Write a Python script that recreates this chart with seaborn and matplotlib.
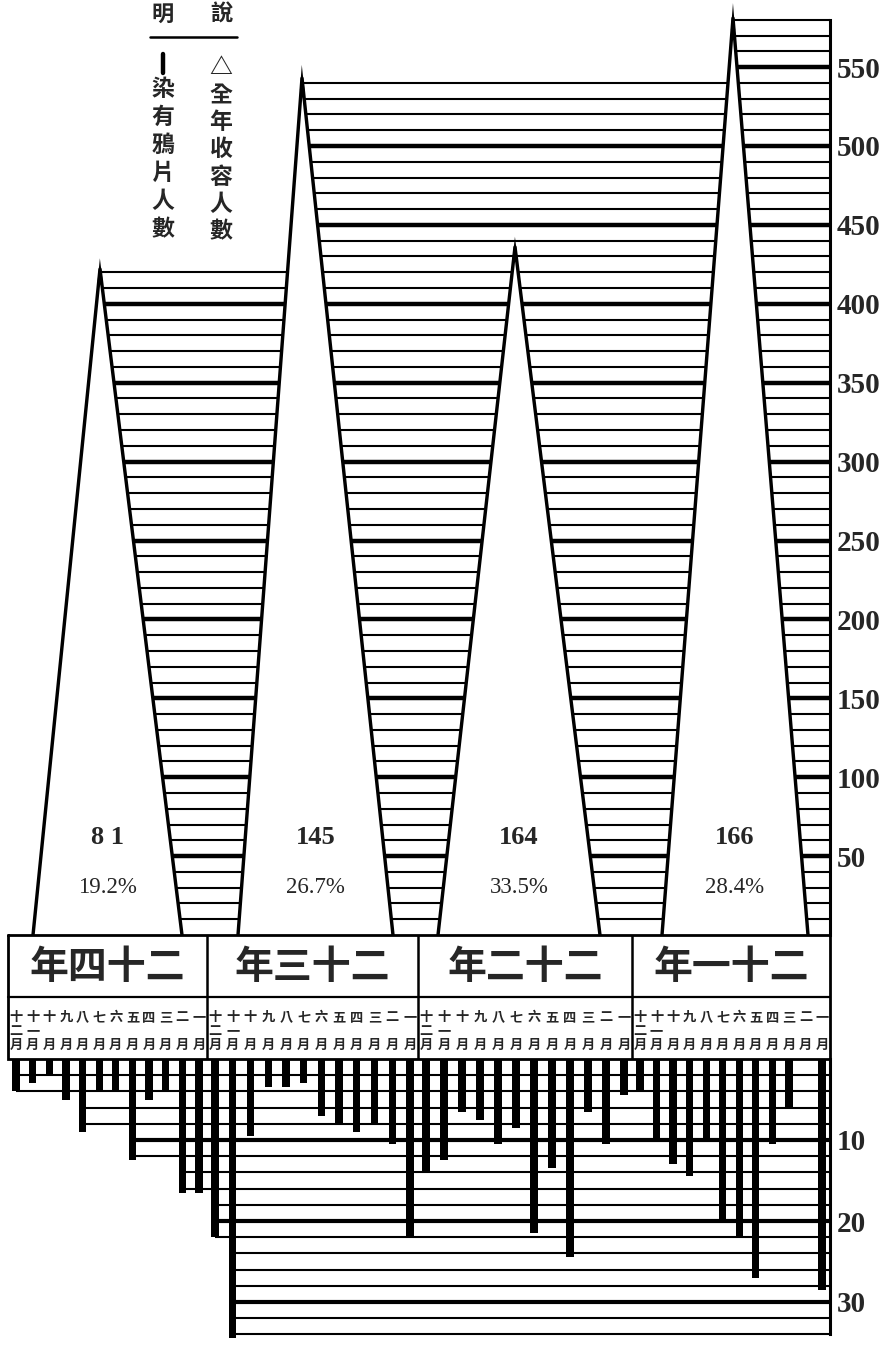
import numpy as np
import pandas as pd
import matplotlib
matplotlib.use("Agg")
import matplotlib.pyplot as plt
import seaborn as sns

# ---------------- data ----------------
# columns read right-to-left in the original: 民國二十四, 二十三, 二十二, 二十一年
year_titles = ["年四十二", "年三十二", "年二十二", "年一十二"]
month_labels = ["十二月", "十一月", "十月", "九月", "八月", "七月",
                "六月", "五月", "四月", "三月", "二月", "一月"]
# 全年收容人數 (apex of each triangle)
total_admitted = [422, 543, 436, 581]
# 染有鴉片人數 per year, printed inside triangles
opium_total_labels = ["8 1", "145", "164", "166"]
opium_pct = [19.2, 26.7, 33.5, 28.4]
# monthly opium-addicted counts (十二月 ... 一月)
opium_y24 = [4, 3, 2, 5, 9, 4, 4, 12.5, 5, 4, 16.5, 16.5]
opium_y23 = [22, 34.5, 9.5, 3.5, 3.5, 3, 7, 8, 9, 8, 10.5, 22]
opium_y22 = [14, 12.5, 6.5, 7.5, 10.5, 8.5, 21.5, 13.5, 24.5, 6.5, 10.5, 4.5]
opium_y21 = [4, 10, 13, 14.5, 10, 20, 22, 27, 10.5, 6, 0, 28.5]
top_ticks = [50, 100, 150, 200, 250, 300, 350, 400, 450, 500, 550]
bottom_ticks = [10, 20, 30]
legend_right = ["△", "全", "年", "收", "容", "人", "數"]
legend_left = ["染", "有", "鴉", "片", "人", "數"]
legend_head = ["說", "明"]

# ---------------- layout (pixels) ----------------
W, H = 887, 1348
AXIS_X = 830
TOP_ZERO = 935          # pixel row of value 0 for the upper scale
TOP_PPU = 1.578         # pixels per person (upper)
BOT_ZERO = 1059         # pixel row of value 0 for the lower scale
BOT_PPU = 8.1           # pixels per person (lower)
BOT_LAST_LINE = 34
col_edges = [8, 207, 418, 632, 830]
tri_left_x = [33, 238, 438, 662]
tri_apex_x = [100, 302, 515, 733]
tri_right_x = [182, 393, 600, 808]
BOX_MID = 997
SIDE_LW_PX = 3.4
SPIKE_HALF_PX = 1.2

CJK = ["Noto Sans CJK TC", "DejaVu Sans"]
SERIF = ["Liberation Serif", "DejaVu Serif"]

sns.set_theme(style="white")
plt.rcParams["font.family"] = CJK
plt.rcParams["axes.edgecolor"] = "black"

fig = plt.figure(figsize=(W / 100, H / 100), dpi=100)
fig.patch.set_facecolor("white")


def rect(x0, y_top, x1, y_bot):
    return [x0 / W, 1 - y_bot / H, (x1 - x0) / W, (y_bot - y_top) / H]


ax_top = fig.add_axes(rect(0, 0, AXIS_X, TOP_ZERO))
ax_box = fig.add_axes(rect(0, TOP_ZERO, AXIS_X, BOT_ZERO))
ax_bot = fig.add_axes(rect(0, BOT_ZERO, AXIS_X, H))
for ax in (ax_top, ax_box, ax_bot):
    ax.set_facecolor("none")
    ax.set_xlim(0, AXIS_X)
    ax.set_xticks([])
    for s in ax.spines.values():
        s.set_visible(False)

# ---------------- upper part: triangles ----------------
ax_top.set_ylim(0, TOP_ZERO / TOP_PPU)
max_level = int(max(total_admitted) // 10 * 10)
for lev in range(10, max_level + 1, 10):
    first = next(i for i, v in enumerate(total_admitted) if v >= lev)
    ax_top.hlines(lev, tri_apex_x[first], AXIS_X, color="black",
                  lw=3.2 if lev % 50 == 0 else 1.5, zorder=1)

tri_rows = []
for i, v in enumerate(total_admitted):
    xl, xa, xr = tri_left_x[i], tri_apex_x[i], tri_right_x[i]
    tri_rows += [dict(year=i, x=xl, y=0), dict(year=i, x=xa, y=v), dict(year=i, x=xr, y=0)]
    ax_top.fill([xl, xa, xr], [0, v, 0], color="white", lw=0, zorder=3)
    # mitred apex as printed: outer edges of the thick sides meet above the apex
    hpx = v * TOP_PPU
    sl = (xa - xl) / hpx
    sr = (xr - xa) / hpx
    depth_px = 12
    yb = v - depth_px / TOP_PPU
    xl_o = xa - sl * depth_px - SPIKE_HALF_PX / np.cos(np.arctan(sl))
    xr_o = xa + sr * depth_px + SPIKE_HALF_PX / np.cos(np.arctan(sr))
    up_px = (xr_o - xl_o) / (sl + sr)
    tip_x = xl_o + sl * up_px
    tip_y = yb + up_px / TOP_PPU
    ax_top.fill([xl_o, tip_x, xr_o], [yb, tip_y, yb], color="black", lw=0, zorder=4)
tri_df = pd.DataFrame(tri_rows)
sns.lineplot(data=tri_df, x="x", y="y", units="year", estimator=None, sort=False,
             color="black", lw=SIDE_LW_PX * 0.72, ax=ax_top, zorder=4, legend=False)
ax_top.set_xlabel("")
ax_top.set_ylabel("")

for i in range(4):
    cx = (tri_left_x[i] + tri_right_x[i]) / 2
    ax_top.text(cx, 61.5, opium_total_labels[i], ha="center", va="center",
                fontsize=19, fontweight="bold", family=SERIF, zorder=6)
    ax_top.text(cx, 30.4, f"{opium_pct[i]:.1f}%", ha="center", va="center",
                fontsize=16.5, family=SERIF, zorder=6)

ax_top.spines["right"].set_visible(True)
ax_top.spines["right"].set_bounds(0, max_level)
ax_top.spines["right"].set_linewidth(2.2)
ax_top.yaxis.tick_right()
ax_top.set_yticks(top_ticks)
ax_top.tick_params(axis="y", length=0, pad=5, labelsize=21)
for lbl in ax_top.get_yticklabels():
    lbl.set_fontfamily(SERIF)
    lbl.set_fontweight("bold")

# ---------------- label box ----------------
ax_box.set_ylim(BOT_ZERO, TOP_ZERO)
ax_box.set_yticks([])
bx0, bx1 = col_edges[0], col_edges[-1]
ax_box.plot([bx0, bx1, bx1, bx0, bx0], [TOP_ZERO, TOP_ZERO, BOT_ZERO, BOT_ZERO, TOP_ZERO],
            color="black", lw=2.0, clip_on=False, solid_joinstyle="miter")
ax_box.plot([bx0, bx1], [BOX_MID, BOX_MID], color="black", lw=1.6)
for e in col_edges[1:-1]:
    ax_box.plot([e, e], [TOP_ZERO, BOT_ZERO], color="black", lw=1.8)

bar_x = []
for i in range(4):
    e0, e1 = col_edges[i], col_edges[i + 1]
    ax_box.text((e0 + e1) / 2, 967, year_titles[i], ha="center", va="center",
                fontsize=28, fontweight="bold")
    step = (e1 - e0 - 16) / 11
    for j, m in enumerate(month_labels):
        x = e0 + 8 + j * step
        bar_x.append(x)
        top = m[0]
        mid = m[1] if len(m) == 3 else ""
        ax_box.text(x, 1017, top, ha="center", va="center", fontsize=9.5, fontweight="heavy")
        if mid:
            ax_box.text(x, 1031, mid, ha="center", va="center", fontsize=9.5, fontweight="heavy")
        ax_box.text(x, 1045, "月", ha="center", va="center", fontsize=9.5, fontweight="heavy")

# ---------------- lower part: monthly bars ----------------
monthly = opium_y24 + opium_y23 + opium_y22 + opium_y21
bars_df = pd.DataFrame({"x": bar_x, "count": monthly})
for lev in range(2, BOT_LAST_LINE + 1, 2):
    first = next(k for k, v in enumerate(monthly) if v >= lev)
    ax_bot.hlines(lev, bar_x[first], AXIS_X, color="black",
                  lw=3.0 if lev % 10 == 0 else 1.5, zorder=1)

sns.barplot(data=bars_df, x="x", y="count", native_scale=True, width=0.45,
            color="black", saturation=1, errorbar=None, ax=ax_bot, zorder=3,
            linewidth=0)
ax_bot.set_xlim(0, AXIS_X)
ax_bot.set_xticks([])
ax_bot.set_xlabel("")
ax_bot.set_ylabel("")
ax_bot.set_ylim((H - BOT_ZERO) / BOT_PPU, 0)
ax_bot.spines["right"].set_visible(True)
ax_bot.spines["right"].set_bounds(0, BOT_LAST_LINE)
ax_bot.spines["right"].set_linewidth(2.2)
ax_bot.yaxis.tick_right()
ax_bot.set_yticks(bottom_ticks)
ax_bot.tick_params(axis="y", length=0, pad=5, labelsize=21)
for lbl in ax_bot.get_yticklabels():
    lbl.set_fontfamily(SERIF)
    lbl.set_fontweight("bold")

# ---------------- legend (說明) ----------------
def fx(x):
    return x / W


def fy(y):
    return 1 - y / H


fig.text(fx(221), fy(14), legend_head[0], ha="center", va="center", fontsize=16, fontweight="bold")
fig.text(fx(163), fy(14), legend_head[1], ha="center", va="center", fontsize=16, fontweight="bold")
fig.add_artist(plt.Line2D([fx(150), fx(237)], [fy(37), fy(37)], color="black", lw=1.8))
for k, ch in enumerate(legend_right):
    fig.text(fx(221), fy(68 + k * 27.3), ch, ha="center", va="center", fontsize=16.5,
             fontweight="bold", family=CJK)
# the bar symbol of the left column
fig.add_artist(plt.Line2D([fx(163), fx(163)], [fy(54), fy(73)], color="black", lw=3.2))
for k, ch in enumerate(legend_left):
    fig.text(fx(163), fy(89 + k * 28.2), ch, ha="center", va="center", fontsize=16.5,
             fontweight="bold", family=CJK)

fig.savefig("out.png", dpi=100, facecolor="white")
